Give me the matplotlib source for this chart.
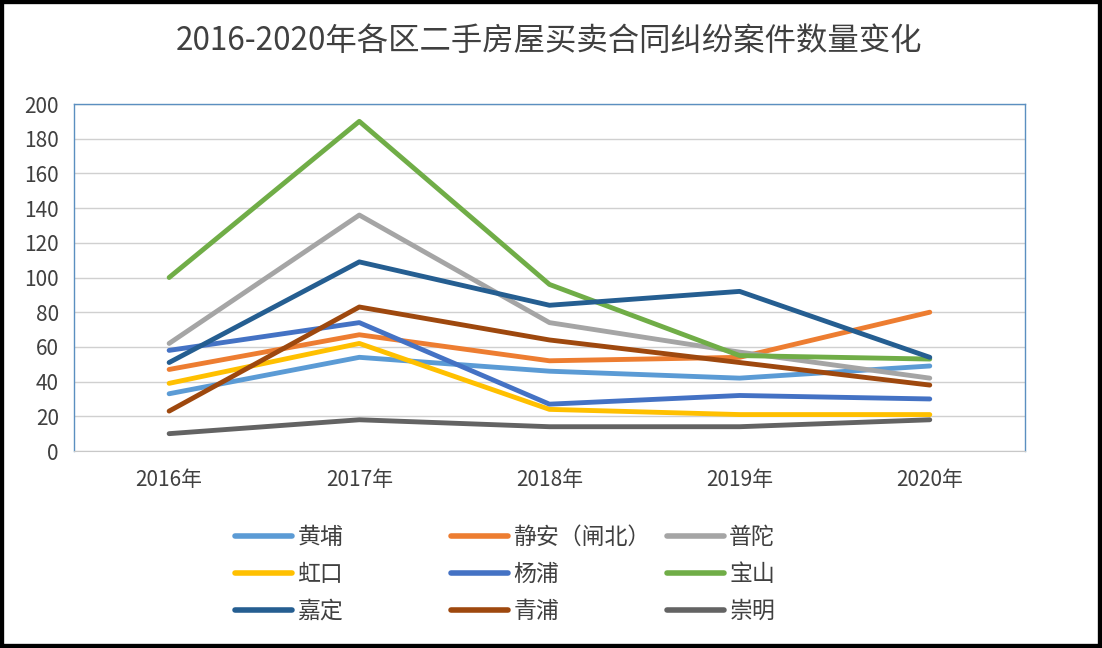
import matplotlib.pyplot as plt
from matplotlib.patches import Rectangle

plt.rcParams['font.family'] = ['Noto Sans CJK SC', 'DejaVu Sans']

years = ["2016年", "2017年", "2018年", "2019年", "2020年"]

huangpu = [33, 54, 46, 42, 49]
jingan = [47, 67, 52, 54, 80]
putuo = [62, 136, 74, 57, 42]
hongkou = [39, 62, 24, 21, 21]
yangpu = [58, 74, 27, 32, 30]
baoshan = [100, 190, 96, 55, 53]
jiading = [51, 109, 84, 92, 54]
qingpu = [23, 83, 64, 51, 38]
chongming = [10, 18, 14, 14, 18]

names = ["黄埔", "静安（闸北）", "普陀", "虹口", "杨浦", "宝山", "嘉定", "青浦", "崇明"]
series = [huangpu, jingan, putuo, hongkou, yangpu, baoshan, jiading, qingpu, chongming]
colors = ["#5B9BD5", "#ED7D31", "#A5A5A5", "#FFC000", "#4472C4",
          "#70AD47", "#255E91", "#9E480E", "#636363"]

fig = plt.figure(figsize=(11.02, 6.48), dpi=100)
ax = fig.add_axes([0.0672, 0.304, 0.8628, 0.5355])

x = range(len(years))
lines = []
for vals, name, c in zip(series, names, colors):
    ln, = ax.plot(x, vals, color=c, lw=3.5, label=name, solid_capstyle="round")
    lines.append(ln)

ax.set_xlim(-0.5, 4.5)
ax.set_ylim(0, 200)
ax.set_yticks(range(0, 201, 20))
ax.set_xticks(list(x))
ax.set_xticklabels(years)
ax.tick_params(length=0, labelsize=15, colors="#404040")
ax.tick_params(axis="x", pad=13)
ax.tick_params(axis="y", pad=11)
ax.grid(axis="y", color="#D0D0D0", lw=1)
ax.set_axisbelow(True)
for s in ["left", "top", "right"]:
    ax.spines[s].set_color("#5B8FC0")
    ax.spines[s].set_linewidth(1)
ax.spines["bottom"].set_color("#C8C8C8")

fig.text(0.498, 0.937, "2016-2020年各区二手房屋买卖合同纠纷案件数量变化",
         ha="center", va="center", fontsize=22.6, color="#404040",
         fontweight="light")

# one legend per column so the columns sit at even spacing, as in the original
col_x = [0.1945, 0.3905, 0.5865]
for k in range(3):
    idx = [k, k + 3, k + 6]
    leg = fig.legend([lines[i] for i in idx], [names[i] for i in idx],
                     loc="upper left", bbox_to_anchor=(col_x[k], 0.2207),
                     frameon=False, fontsize=16.5, handlelength=2.5,
                     handletextpad=0.22, labelspacing=0.62,
                     labelcolor="#404040")
    for h in leg.legend_handles:
        h.set_linewidth(4)

fig.patches.append(Rectangle((0, 0), 1, 1, transform=fig.transFigure,
                             fill=False, edgecolor="black", lw=6))

fig.savefig("out.png", dpi=100)
